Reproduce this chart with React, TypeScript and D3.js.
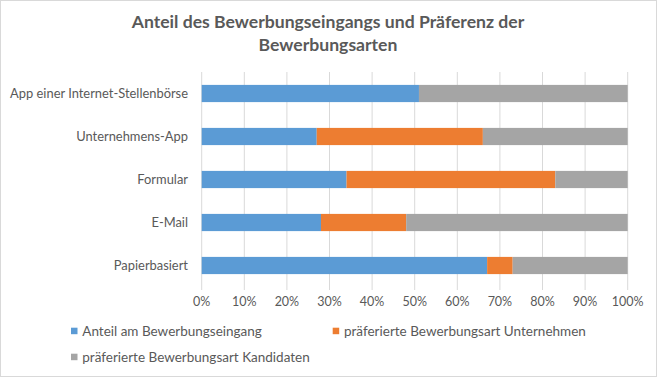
import React from "react";
import * as d3 from "d3";

const categories = [
  "App einer Internet-Stellenbörse",
  "Unternehmens-App",
  "Formular",
  "E-Mail",
  "Papierbasiert",
];
const seriesNames = [
  "Anteil am Bewerbungseingang",
  "präferierte Bewerbungsart Unternehmen",
  "präferierte Bewerbungsart Kandidaten",
];
const anteil = [51, 27, 34, 28, 67];
const unternehmen = [0, 39, 49, 20, 6];
const kandidaten = [49, 34, 17, 52, 27];
const tickValues = [0, 0.1, 0.2, 0.3, 0.4, 0.5, 0.6, 0.7, 0.8, 0.9, 1];
const colors = ["#5b9bd5", "#ed7d31", "#a5a5a5"];

const W = 657;
const H = 377;
const FONT = "Lato, 'Open Sans', sans-serif";

export default function App() {
  React.useEffect(() => {
    document.body.style.margin = "0";
  }, []);

  const rows = categories.map((c, i) => ({
    cat: c,
    a: anteil[i],
    u: unternehmen[i],
    k: kandidaten[i],
  }));
  const stack = d3.stack<any>().keys(["a", "u", "k"]).offset(d3.stackOffsetExpand);
  const series = stack(rows);

  const x = d3.scaleLinear().domain([0, 1]).range([201.7, 627.7]);
  const y = d3
    .scaleBand<string>()
    .domain(categories)
    .range([72, 287])
    .paddingInner(0.6)
    .paddingOuter(0.3);

  const fmt = d3.format(".0%");

  return (
    <svg width={W} height={H} style={{ display: "block", fontFamily: FONT }}>
      <rect x={0.5} y={0.5} width={W - 1} height={H - 1} fill="#fff" stroke="#d9d9d9" />
      <text x={328} y={28.3} textAnchor="middle" fontSize={17.6} fontWeight="bold" fill="#595959">
        Anteil des Bewerbungseingangs und Präferenz der
      </text>
      <text x={328} y={50.5} textAnchor="middle" fontSize={17.6} fontWeight="bold" fill="#595959">
        Bewerbungsarten
      </text>
      {tickValues.map((t) => (
        <line
          key={t}
          x1={x(t)}
          x2={x(t)}
          y1={72}
          y2={290}
          stroke="#d9d9d9"
          strokeWidth={1}
        />
      ))}
      {series.map((s, si) =>
        s.map((d, i) => (
          <rect
            key={si + "-" + i}
            x={x(d[0])}
            y={y(categories[i])}
            width={Math.max(0, x(d[1]) - x(d[0]))}
            height={y.bandwidth()}
            fill={colors[si]}
          />
        ))
      )}
      {categories.map((c) => (
        <text
          key={c}
          x={188}
          y={(y(c) as number) + y.bandwidth() / 2}
          dy="0.35em"
          textAnchor="end"
          fontSize={12.9}
          fill="#595959"
        >
          {c}
        </text>
      ))}
      {tickValues.map((t) => (
        <text key={"l" + t} x={x(t)} y={302} dy="0.35em" textAnchor="middle" fontSize={12.5} fill="#595959">
          {fmt(t)}
        </text>
      ))}
      {[
        { i: 0, lx: 71, ly: 331 },
        { i: 1, lx: 332.7, ly: 331 },
        { i: 2, lx: 71, ly: 357 },
      ].map(({ i, lx, ly }) => (
        <g key={"leg" + i}>
          <rect x={lx} y={ly - 3.3} width={6.5} height={6.5} fill={colors[i]} />
          <text x={lx + 11.3} y={ly} dy="0.35em" fontSize={13.5} fill="#595959">
            {seriesNames[i]}
          </text>
        </g>
      ))}
    </svg>
  );
}
